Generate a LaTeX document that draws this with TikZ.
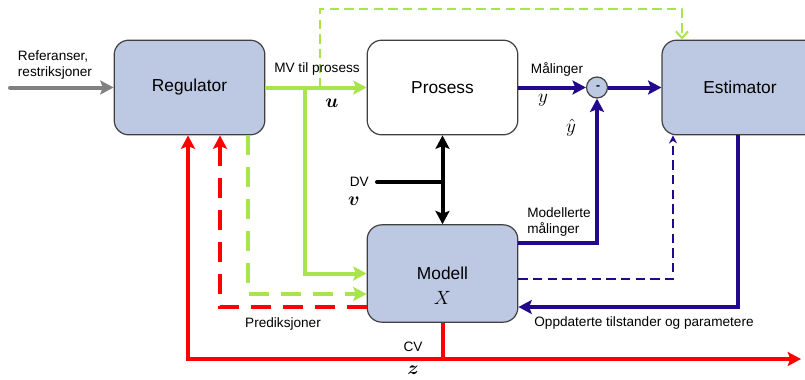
\documentclass[tikz,border=0pt]{standalone}
\usepackage{amsmath,bm}
\usepackage{fontspec}
\setmainfont{Liberation Sans}
\usetikzlibrary{arrows.meta}

\definecolor{boxblue}{RGB}{189,201,227}
\definecolor{lgreen}{RGB}{168,228,76}
\definecolor{navy}{RGB}{34,8,140}
\definecolor{redline}{RGB}{255,0,0}
\definecolor{greyline}{RGB}{128,128,128}

\begin{document}
\begin{tikzpicture}[
            x=0.75pt, y=-0.75pt,
            box/.style={rectangle, rounded corners=11pt, draw=black!75, line width=0.9pt,
                        minimum width=113pt, minimum height=71pt, font=\fontsize{13}{15}\selectfont},
            lbl/.style={font=\fontsize{10.2}{12.5}\selectfont, inner sep=0pt, align=left},
            sym/.style={font=\fontsize{14.4}{17}\selectfont, inner sep=0pt},
            arrow/.style={-{Stealth[length=10pt, width=10.5pt, inset=2pt]}},
            thickline/.style={line width=3pt},
            thinline/.style={line width=1.5pt},
            bigdash/.style={dash pattern=on 15pt off 9pt},
            smalldash/.style={dash pattern=on 7pt off 4pt}
        ]
            \useasboundingbox (0,0) rectangle (805,379);

            % Blocks
            \node[box, fill=boxblue] (reg) at (189.5,87.5) {Regulator};
            \node[box, fill=white] (pros) at (442.5,87.5) {Prosess};
            \node[box, fill=boxblue, minimum width=117pt] (est) at (740,87.5) {Estimator};
            \node[box, fill=boxblue, minimum height=73pt] (mod) at (442.5,273.5) {Modell\\[-2pt]};
            \node[circle, draw=black!75, line width=0.9pt, fill=boxblue, minimum size=15.75pt,
                  inner sep=0pt, font=\bfseries\small] (sum) at (597,87.5) {\raisebox{-1.5pt}{\,-}};

            % Bend points
            \coordinate (ref) at (10,87.5);
            \coordinate (usplit) at (305,87.5);
            \coordinate (gt) at (320,87.5);
            \coordinate (gtop) at (682,9);
            \coordinate (gd) at (248,294);
            \coordinate (rd) at (220,307);
            \coordinate (cv) at (442.5,359);
            \coordinate (zl) at (188,359);
            \coordinate (zend) at (801,359);
            \coordinate (dv) at (377,182);
            \coordinate (mb) at (597,243);
            \coordinate (ed) at (673,279);
            \coordinate (up) at (738,307);

            % Inputs
            \draw[greyline, thickline, arrow, line cap=round] (ref) -- (reg);
            \draw[black, thickline, line cap=round] (dv) -- (dv -| pros);
            \draw[black, thickline, {Stealth[length=10pt, width=10.5pt, inset=2pt]}-{Stealth[length=10pt, width=10.5pt, inset=2pt]}] (pros) -- (mod);

            % MV
            \draw[lgreen, thickline, arrow] (reg) -- (pros);
            \draw[lgreen, thickline, arrow] (usplit) |- (mod);
            \draw[lgreen, thinline, smalldash, -{Straight Barb[length=5pt, width=9pt]}] (gt) |- (gtop) -- (est.north -| gtop);
            \draw[lgreen, thickline, bigdash, arrow] (reg.south -| gd) |- (mod.west |- gd);

            % Measurements and estimator
            \draw[navy, thickline, arrow] (pros) -- (sum);
            \draw[navy, thickline, arrow] (sum) -- (est);
            \draw[navy, thickline, arrow] (mod.east |- mb) -| (sum);
            \draw[navy, thinline, smalldash, -{Stealth[length=6pt, width=6pt]}] (mod.east |- ed) -| (est.south -| ed);
            \draw[navy, thickline, arrow] (est.south -| up) |- (mod.east |- up);

            % Predictions and CV
            \draw[redline, thickline, bigdash, arrow] (mod.west |- rd) -| (reg.south -| rd);
            \draw[redline, thickline] (mod) -- (cv);
            \draw[redline, thickline, {Stealth[length=10pt, width=10.5pt, inset=2pt]}-{Stealth[length=10pt, width=10.5pt, inset=2pt]}] (reg.south -| zl) |- (zend);

            % Labels
            \node[lbl] (reftxt) at (55,65) {Referanser,\\restriksjoner};
            \node[lbl] (mvtxt) at (317,69) {MV til prosess};
            \node[sym] (utxt) at (332,103) {$\bm{u}$};
            \node[lbl] (maltxt) at (557,69) {Målinger};
            \node[sym] (ytxt) at (543,100) {$y$};
            \node[sym] (yhattxt) at (571,128) {$\hat{y}$};
            \node[lbl, anchor=east] (dvtxt) at (369,182) {DV};
            \node[sym] (vtxt) at (354,201) {$\bm{v}$};
            \node[lbl, anchor=west] (modmtxt) at (527,222) {Modellerte\\målinger};
            \node[sym] (xtxt) at (442.5,298) {$X$};
            \node[lbl] (predtxt) at (283,324) {Prediksjoner};
            \node[lbl] (opptxt) at (644,323) {Oppdaterte tilstander og parametere};
            \node[lbl] (cvtxt) at (413,347) {CV};
            \node[sym] (ztxt) at (413,370) {$\bm{z}$};
        \end{tikzpicture}
\end{document}
